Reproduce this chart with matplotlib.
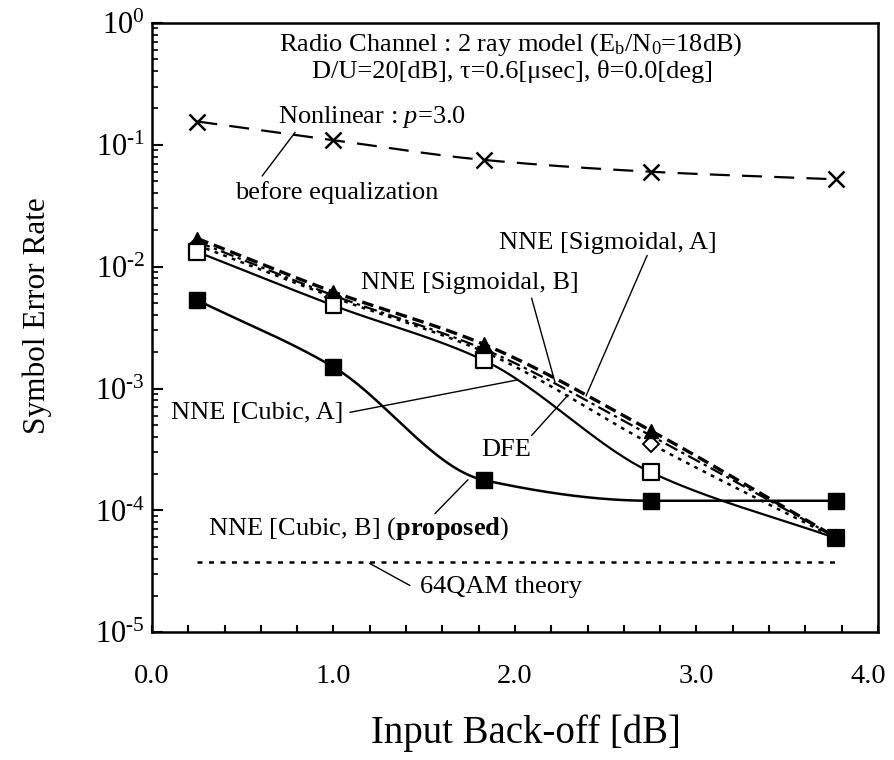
import numpy as np
import matplotlib
matplotlib.use("Agg")
import matplotlib.pyplot as plt
import matplotlib.transforms as mtransforms
from matplotlib.ticker import MultipleLocator, FixedLocator, LogLocator, NullFormatter, FuncFormatter

plt.rcParams['font.family'] = ['Liberation Serif', 'DejaVu Serif']
plt.rcParams['mathtext.fontset'] = 'custom'
plt.rcParams['mathtext.rm'] = 'Liberation Serif'
plt.rcParams['mathtext.it'] = 'Liberation Serif:italic'
plt.rcParams['mathtext.bf'] = 'Liberation Serif:bold'

# data (input back-off [dB] vs symbol error rate)
ibo = [0.25, 1.0, 1.83, 2.75, 3.77]
ser_before_eq = [0.155, 0.109, 0.075, 0.060, 0.052]
ser_sig_a = [0.0170, 0.0062, 0.0023, 4.5e-4, 6.0e-5]
ser_sig_b = [0.0160, 0.0058, 0.0021, 4.1e-4, 6.0e-5]
ser_dfe = [0.0150, 0.0056, 0.0020, 3.5e-4, 5.9e-5]
ser_cubic_a = [0.0132, 0.0048, 0.0017, 2.05e-4, 5.9e-5]
cubic_a_face = ['white', 'white', 'white', 'white', 'black']  # last point looks filled (overlap)
ser_cubic_b = [0.0053, 0.0015, 1.77e-4, 1.2e-4, 1.2e-4]
theory_x = [0.25, 3.77]
theory_ser = [3.8e-5, 3.8e-5]

xticks = [0.0, 1.0, 2.0, 3.0, 4.0]
xticklabels = ["0.0", "1.0", "2.0", "3.0", "4.0"]


def smooth(x, y, n=300):
    # monotone cubic (Fritsch-Carlson) through the points, in log space
    x = np.asarray(x, float)
    ly = np.log10(np.asarray(y, float))
    h = np.diff(x)
    d = np.diff(ly) / h
    m = np.zeros_like(ly)
    m[0], m[-1] = d[0], d[-1]
    for i in range(1, len(x) - 1):
        if d[i - 1] * d[i] <= 0:
            m[i] = 0.0
        else:
            w1 = 2 * h[i] + h[i - 1]
            w2 = h[i] + 2 * h[i - 1]
            m[i] = (w1 + w2) / (w1 / d[i - 1] + w2 / d[i])
    xs = np.linspace(x[0], x[-1], n)
    k = np.clip(np.searchsorted(x, xs) - 1, 0, len(x) - 2)
    t = (xs - x[k]) / h[k]
    h00 = 2 * t**3 - 3 * t**2 + 1
    h10 = t**3 - 2 * t**2 + t
    h01 = -2 * t**3 + 3 * t**2
    h11 = t**3 - t**2
    ys = h00 * ly[k] + h10 * h[k] * m[k] + h01 * ly[k + 1] + h11 * h[k] * m[k + 1]
    return xs, 10**ys


def pow10_label(v, pos):
    e = int(round(np.log10(v)))
    if e < 0:
        return "$\\mathdefault{10^{\u2010%d}}$" % (-e)
    return "$\\mathdefault{10^{%d}}$" % e


fig = plt.figure(figsize=(8.94, 7.6), dpi=100)
ax = fig.add_axes([0.170, 0.168, 0.812, 0.802])
ax.set_yscale('log')

# before equalization
xs, ys = smooth(ibo, ser_before_eq)
ax.plot(xs, ys, color='black', lw=1.6, dashes=(9, 5.5))
ax.plot(ibo, ser_before_eq, ls='none', marker='x', ms=11, mew=1.8, color='black')

# DFE
xs, ys = smooth(ibo, ser_dfe)
ax.plot(xs, ys, color='black', lw=1.8, dashes=(1.5, 2.2))
ax.plot(ibo, ser_dfe, ls='none', marker='D', ms=8, mfc='white', mec='black', mew=1.4)

# NNE sigmoidal B
xs, ys = smooth(ibo, ser_sig_b)
ax.plot(xs, ys, color='black', lw=1.6, dashes=(6, 2, 1.5, 2))

# NNE sigmoidal A
xs, ys = smooth(ibo, ser_sig_a)
ax.plot(xs, ys, color='black', lw=2.4, dashes=(3.5, 1.8))
ax.plot(ibo, ser_sig_a, ls='none', marker='^', ms=10, color='black')

# NNE cubic A
xs, ys = smooth(ibo, ser_cubic_a)
ax.plot(xs, ys, color='black', lw=1.6)
ax.scatter(ibo, ser_cubic_a, marker='s', s=130, facecolors=cubic_a_face,
           edgecolors='black', linewidths=1.6, zorder=3)

# NNE cubic B (proposed)
xs, ys = smooth(ibo, ser_cubic_b)
ax.plot(xs, ys, color='black', lw=1.8)
ax.plot(ibo, ser_cubic_b, ls='none', marker='s', ms=12, color='black', zorder=4)

# 64QAM theory
ax.plot(theory_x, theory_ser, color='black', lw=1.8, dashes=(2, 2.6))

ax.set_xlim(0, 4)
ax.set_ylim(1e-5, 1)
ax.xaxis.set_major_locator(FixedLocator(xticks))
ax.set_xticklabels(xticklabels)
ax.xaxis.set_minor_locator(MultipleLocator(0.2))
ax.yaxis.set_major_locator(LogLocator(base=10, numticks=10))
ax.yaxis.set_major_formatter(FuncFormatter(pow10_label))
ax.yaxis.set_minor_locator(LogLocator(base=10, subs=np.arange(2, 10), numticks=10))
ax.yaxis.set_minor_formatter(NullFormatter())

ax.tick_params(axis='x', which='both', direction='in', top=False, length=5, width=1.5,
               labelsize=20.5, pad=23)
ax.tick_params(axis='y', which='major', direction='in', right=False, length=8, width=1.5,
               labelsize=22, pad=5)
ax.tick_params(axis='y', which='minor', direction='in', right=False, length=4.5, width=1.2)
for s in ax.spines.values():
    s.set_linewidth(1.8)

# nudge the last x label so it stays inside the figure
last = ax.get_xticklabels()[-1]
last.set_transform(last.get_transform() + mtransforms.ScaledTranslation(-7 / 72, 0, fig.dpi_scale_trans))

ax.set_xlabel("Input Back-off [dB]", fontsize=28)
ax.set_ylabel("Symbol Error Rate", fontsize=22.5)
ax.xaxis.set_label_coords(0.515, -0.135)
ax.yaxis.set_label_coords(-0.138, 0.52)

tkw = dict(transform=ax.transAxes, fontsize=19, color='black')
ax.text(0.494, 0.964, r"Radio Channel : 2 ray model (E$_\mathrm{b}$/N$_\mathrm{0}$=18dB)",
        ha='center', va='center', **tkw)
ax.text(0.496, 0.920, "D/U=20[dB], \u03c4=0.6[\u03bcsec], \u03b8=0.0[deg]",
        ha='center', va='center', **tkw)
ax.text(0.303, 0.846, r"Nonlinear : $p$=3.0", ha='center', va='center', **tkw)
ax.text(0.255, 0.721, "before equalization", ha='center', va='center', **tkw)
ax.text(0.628, 0.639, "NNE [Sigmoidal, A]", ha='center', va='center', **tkw)
ax.text(0.438, 0.573, "NNE [Sigmoidal, B]", ha='center', va='center', **tkw)
ax.text(0.264, 0.360, "NNE [Cubic, A]", ha='right', va='center', **tkw)
ax.text(0.488, 0.299, "DFE", ha='center', va='center', **tkw)
ax.text(0.077, 0.171, r"NNE [Cubic, B] ($\mathbf{proposed}$)", ha='left', va='center', **tkw)
ax.text(0.369, 0.074, "64QAM theory", ha='left', va='center', **tkw)

# leader lines
leaders = [
    ((0.152, 0.749), (0.197, 0.820)),
    ((0.682, 0.618), (0.598, 0.388)),
    ((0.523, 0.548), (0.555, 0.411)),
    ((0.273, 0.361), (0.503, 0.414)),
    ((0.523, 0.323), (0.573, 0.389)),
    ((0.390, 0.195), (0.435, 0.250)),
    ((0.355, 0.077), (0.300, 0.113)),
]
for p0, p1 in leaders:
    ax.plot([p0[0], p1[0]], [p0[1], p1[1]], transform=ax.transAxes, color='black', lw=1.0)

fig.savefig("out.png", dpi=100)
